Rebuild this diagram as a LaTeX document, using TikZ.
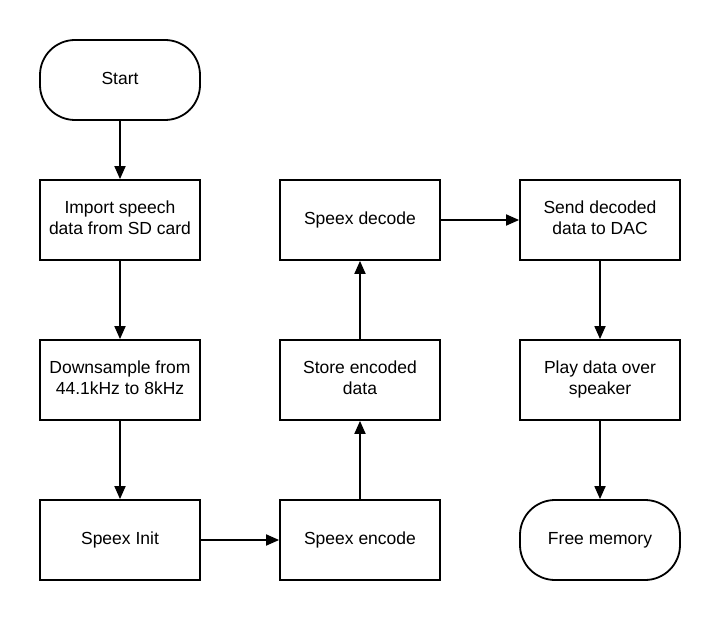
\documentclass[tikz,border=0pt]{standalone}
\usepackage{fontspec}
\setmainfont{Liberation Sans}
\usetikzlibrary{arrows.meta}
\newcommand\boxlines[1]{\begin{tabular}{@{}c@{}}#1\end{tabular}}
\begin{document}
\begin{tikzpicture}[x=1pt,y=-1pt,
  box/.style={draw, line width=1.8pt, minimum width=160pt, minimum height=80pt,
    inner sep=0pt, font=\fontsize{17.5}{21}\selectfont},
  term/.style={box, rounded corners=35pt},
  conn/.style={line width=1.8pt, -{Triangle[length=13pt,width=11pt]}}]
\useasboundingbox (0,0) rectangle (720,620);
\node[term] (start) at (120,80) {\boxlines{Start}};
\node[box] (import) at (120,220) {\boxlines{Import speech\\data from SD card}};
\node[box] (down) at (120,380) {\boxlines{Downsample from\\44.1kHz to 8kHz}};
\node[box] (init) at (120,540) {\boxlines{Speex Init}};
\node[box] (encode) at (360,540) {\boxlines{Speex encode}};
\node[box] (store) at (360,380) {\boxlines{Store encoded\\data}};
\node[box] (decode) at (360,220) {\boxlines{Speex decode}};
\node[box] (send) at (600,220) {\boxlines{Send decoded\\data to DAC}};
\node[box] (play) at (600,380) {\boxlines{Play data over\\speaker}};
\node[term] (free) at (600,540) {\boxlines{Free memory}};
\draw[conn] (start) -- (import);
\draw[conn] (import) -- (down);
\draw[conn] (down) -- (init);
\draw[conn] (init) -- (encode);
\draw[conn] (encode) -- (store);
\draw[conn] (store) -- (decode);
\draw[conn] (decode) -- (send);
\draw[conn] (send) -- (play);
\draw[conn] (play) -- (free);
\end{tikzpicture}
\end{document}
